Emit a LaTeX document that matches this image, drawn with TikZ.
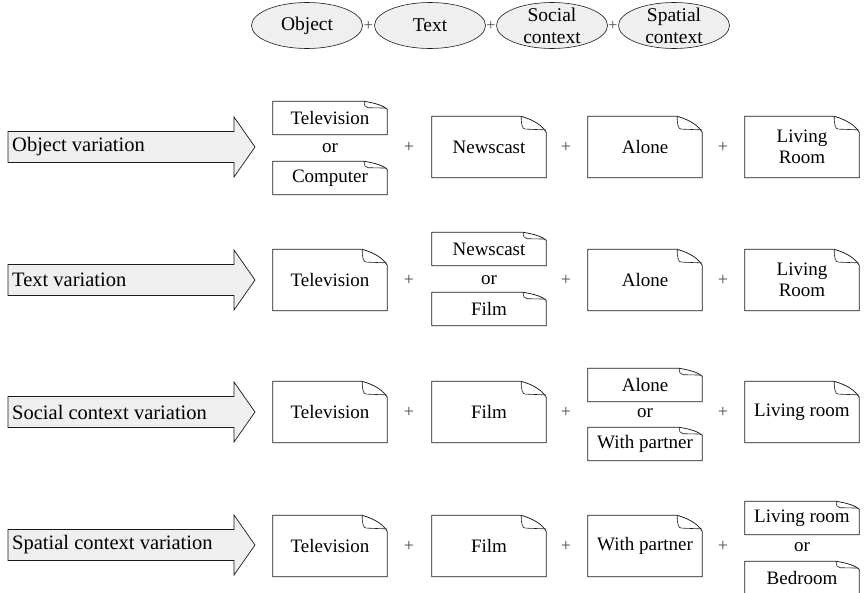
\documentclass[tikz,border=0pt]{standalone}
\usepackage{fontspec}
\setmainfont{Liberation Serif}
\usetikzlibrary{shapes.geometric}
\definecolor{panel}{HTML}{EFEFEF}
\definecolor{ink}{HTML}{1A1A1A}

\tikzset{
  boxtext/.style={font=\fontsize{19}{21}\selectfont, align=center, inner sep=0pt},
  bigbox/.style={boxtext, minimum width=114pt, minimum height=61pt},
  smallbox/.style={boxtext, minimum width=114pt, minimum height=33pt},
  plus/.style={font=\fontsize{18}{20}\selectfont, text=ink!80, inner sep=0pt},
  topplus/.style={font=\fontsize{16}{18}\selectfont, text=ink!80, inner sep=0pt},
  ortext/.style={font=\fontsize{19}{21}\selectfont, inner sep=0pt},
  dimension/.style={ellipse, draw=ink, fill=panel, line width=0.6pt,
    minimum width=111pt, minimum height=46pt, inner sep=0pt, outer sep=0pt},
  dimtext/.style={align=center, inner sep=0pt, font=\fontsize{19.5}{22}\selectfont},
  outline/.style={draw=ink, line width=0.75pt, line join=miter},
  arrowbody/.style={draw=ink, fill=panel, line width=0.7pt, line join=miter},
  arrowtext/.style={font=\fontsize{20.5}{23}\selectfont, anchor=west, inner sep=0pt}
}

% folded-corner outline around a named node: #1 node, #2 fold width, #3 fold height
\newcommand{\dogear}[3]{%
  \draw[outline] (#1.south west) -- (#1.north west)
    -- ([xshift=-#2pt]#1.north east)
    .. controls ([xshift=-#2pt+0.55*#2pt, yshift=-0.25*#3pt]#1.north east)
       and ([xshift=-0.15*#2pt, yshift=-0.6*#3pt]#1.north east)
    .. ([yshift=-#3pt]#1.north east)
    -- (#1.south east) -- cycle;
  \draw[outline, line width=0.6pt] ([xshift=-#2pt]#1.north east)
    .. controls ([xshift=-#2pt, yshift=-0.5*#3pt]#1.north east)
       and ([xshift=-#2pt+1pt, yshift=-0.8*#3pt]#1.north east)
    .. ([xshift=-#2pt+4pt, yshift=-0.8*#3pt]#1.north east)
    -- ([yshift=-0.85*#3pt]#1.north east);
}

% one variation arrow: #1 name, #2 row centre, #3 label
\newcommand{\variation}[3]{%
  \draw[arrowbody] (8,#2-15.5) -- (234,#2-15.5) -- (234,#2-30) -- (255,#2)
    -- (234,#2+30) -- (234,#2+15.5) -- (8,#2+15.5) -- cycle;
  \node[arrowtext] (#1) at (12,#2) {#3};
}

% one dimension ellipse with its caption: #1 name, #2 x centre, #3 caption
\newcommand{\dimension}[3]{%
  \node[dimension] (#1) at (#2,25.5) {};
  \node[dimtext] (#1-t) at (#1) {#3};
}

\begin{document}
\begin{tikzpicture}[x=1pt, y=-1pt]
\useasboundingbox (0,0) rectangle (865,592);

% the four dimensions
\dimension{obj}{307}{Object}
\node[topplus] (p01) at (368.5,26) {+};
\dimension{txt}{430}{Text}
\node[topplus] (p02) at (491,26) {+};
\dimension{soc}{552}{Social\\context}
\node[topplus] (p03) at (613,26) {+};
\dimension{spa}{674}{Spatial\\context}

% row 1: object variation
\variation{v1}{147}{Object variation}
\node[smallbox] (r1a) at (330,118) {Television};
\node[ortext] (r1or) at (330,148) {or};
\node[smallbox] (r1b) at (330,178) {Computer};
\node[plus] (r1p1) at (409,147) {+};
\node[bigbox] (r1c) at (489,147) {Newscast};
\node[plus] (r1p2) at (566,147) {+};
\node[bigbox] (r1d) at (645,147) {Alone};
\node[plus] (r1p3) at (723,147) {+};
\node[bigbox] (r1e) at (802,147) {Living\\Room};

% row 2: text variation
\variation{v2}{280}{Text variation}
\node[bigbox] (r2a) at (330,280) {Television};
\node[plus] (r2p1) at (409,280) {+};
\node[smallbox] (r2b) at (489,249) {Newscast};
\node[ortext] (r2or) at (489,280) {or};
\node[smallbox] (r2c) at (489,309) {Film};
\node[plus] (r2p2) at (566,280) {+};
\node[bigbox] (r2d) at (645,280) {Alone};
\node[plus] (r2p3) at (723,280) {+};
\node[bigbox] (r2e) at (802,280) {Living\\Room};

% row 3: social context variation
\variation{v3}{412}{Social context variation}
\node[bigbox] (r3a) at (330,412) {Television};
\node[plus] (r3p1) at (409,412) {+};
\node[bigbox] (r3b) at (489,412) {Film};
\node[plus] (r3p2) at (566,412) {+};
\node[smallbox] (r3c) at (645,385) {Alone};
\node[ortext] (r3or) at (645,413) {or};
\node[smallbox] (r3d) at (645,444) {With partner};
\node[plus] (r3p3) at (723,412) {+};
\node[bigbox] (r3e) at (802,412) {Living room};

% row 4: spatial context variation
\variation{v4}{545}{Spatial context variation}
\node[bigbox] (r4a) at (330,546) {Television};
\node[plus] (r4p1) at (409,546) {+};
\node[bigbox] (r4b) at (489,546) {Film};
\node[plus] (r4p2) at (566,546) {+};
\node[bigbox] (r4c) at (645,546) {With partner};
\node[plus] (r4p3) at (723,546) {+};
\node[smallbox] (r4d) at (802,518) {Living room};
\node[ortext] (r4or) at (802,547) {or};
\node[smallbox] (r4e) at (802,578) {Bedroom};

% folded-corner outlines
\foreach \n in {r1c,r1d,r1e,r2a,r2d,r2e,r3a,r3b,r3e,r4a,r4b,r4c}{\dogear{\n}{25}{16}}
\foreach \n in {r1a,r1b,r2b,r2c,r3c,r3d,r4d,r4e}{\dogear{\n}{23}{8}}
\end{tikzpicture}
\end{document}
